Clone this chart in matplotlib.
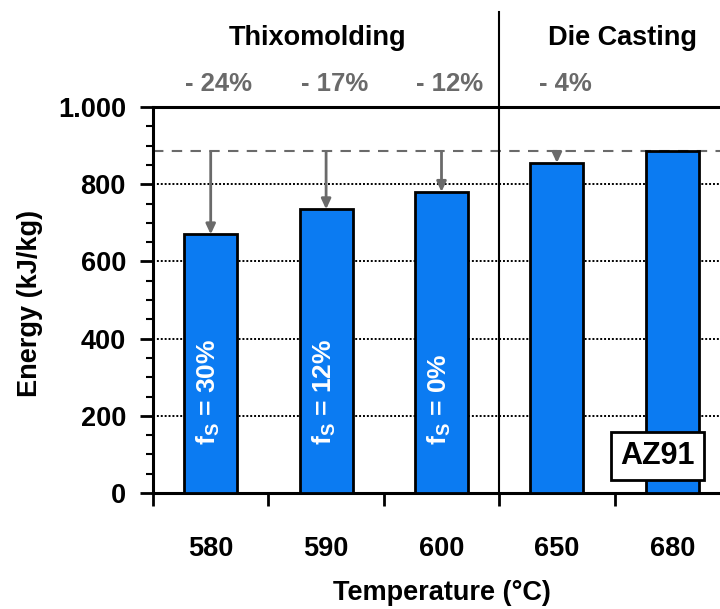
import matplotlib
matplotlib.use("Agg")
import matplotlib.pyplot as plt
from matplotlib.ticker import FuncFormatter, MultipleLocator

plt.rcParams['font.family'] = ['Liberation Sans', 'DejaVu Sans']
plt.rcParams['font.weight'] = 'bold'

# data
temps = ['580', '590', '600', '650', '680']
energy = [670, 735, 780, 855, 885]
reduction = ['- 24%', '- 17%', '- 12%', '- 4%']
fs_labels = ['f$_\\mathregular{S}$ = 30%', 'f$_\\mathregular{S}$ = 12%', 'f$_\\mathregular{S}$ = 0%']
groups = ['Thixomolding', 'Die Casting']
reference = energy[-1]

blue = '#0B7BF2'
grey = '#6a6a6a'
fs = 19.5

fig = plt.figure(figsize=(7.2, 6.09), dpi=100)
ax = fig.add_axes([153 / 720, 1 - 493 / 609, 577 / 720, 386 / 609])

x = list(range(len(temps)))
ax.bar(x, energy, width=0.46, color=blue, edgecolor='black', linewidth=2, zorder=3)

# grid lines (dotted) and reference line (dashed)
for g in [200, 400, 600, 800]:
    ax.axhline(g, color='black', linestyle=(0, (1, 1)), linewidth=1.4, zorder=1)
ax.axhline(reference, color=grey, linestyle=(0, (5, 4)), linewidth=1.5, zorder=2)

# arrows from reference to bar tops
for i in range(len(reduction)):
    ax.annotate('', xy=(i, energy[i]), xytext=(i, reference),
                arrowprops=dict(arrowstyle='-|>,head_length=0.6,head_width=0.28',
                                color=grey, lw=2, shrinkA=0, shrinkB=0),
                zorder=4)
    ax.text(i + 0.07, 1060, reduction[i], ha='center', va='center',
            color=grey, fontsize=18.5, fontweight='bold', clip_on=False)

# solid fraction labels inside bars
for i, lab in enumerate(fs_labels):
    ax.text(i - 0.02, 125, lab, rotation=90, ha='center', va='bottom',
            color='white', fontsize=19, fontweight='bold', zorder=5)

# group headers and separator
ax.text(0.93, 1180, groups[0], ha='center', va='center', fontsize=fs, fontweight='bold', clip_on=False)
ax.text(3.57, 1180, groups[1], ha='center', va='center', fontsize=fs, fontweight='bold', clip_on=False)
ax.plot([2.5, 2.5], [0, 1245], color='black', linewidth=1.5, clip_on=False, zorder=6)

ax.set_xlim(-0.5, 4.5)
ax.set_ylim(0, 1000)

ax.spines['right'].set_visible(False)
for s in ['left', 'top', 'bottom']:
    ax.spines[s].set_linewidth(2.2)

ax.set_xticks([-0.5, 0.5, 1.5, 2.5, 3.5])
ax.set_xticklabels([])
ax.set_xticks(x, minor=True)
ax.set_xticklabels(temps, minor=True)
ax.tick_params(axis='x', which='major', direction='out', length=9, width=2)
ax.tick_params(axis='x', which='minor', length=0, pad=31, labelsize=fs)

ax.yaxis.set_major_locator(MultipleLocator(200))
ax.yaxis.set_minor_locator(MultipleLocator(50))
ax.yaxis.set_major_formatter(FuncFormatter(lambda v, p: f'{int(v):,}'.replace(',', '.')))
ax.tick_params(axis='y', which='major', direction='out', length=9.5, width=2, pad=10, labelsize=fs)
ax.tick_params(axis='y', which='minor', direction='out', length=5, width=1.5)

ax.set_ylabel('Energy (kJ/kg)', fontsize=fs, fontweight='bold')
ax.yaxis.set_label_coords(-0.19, 0.49)
ax.set_xlabel('Temperature (°C)', fontsize=fs, fontweight='bold')
ax.xaxis.set_label_coords(0.5, -0.225)

ax.text(0.875, 0.096, 'AZ91', transform=ax.transAxes, ha='center', va='center',
        fontsize=22, fontweight='bold', zorder=7,
        bbox=dict(boxstyle='square,pad=0.3', facecolor='white', edgecolor='black', linewidth=2))

fig.savefig('out.png', dpi=100)
